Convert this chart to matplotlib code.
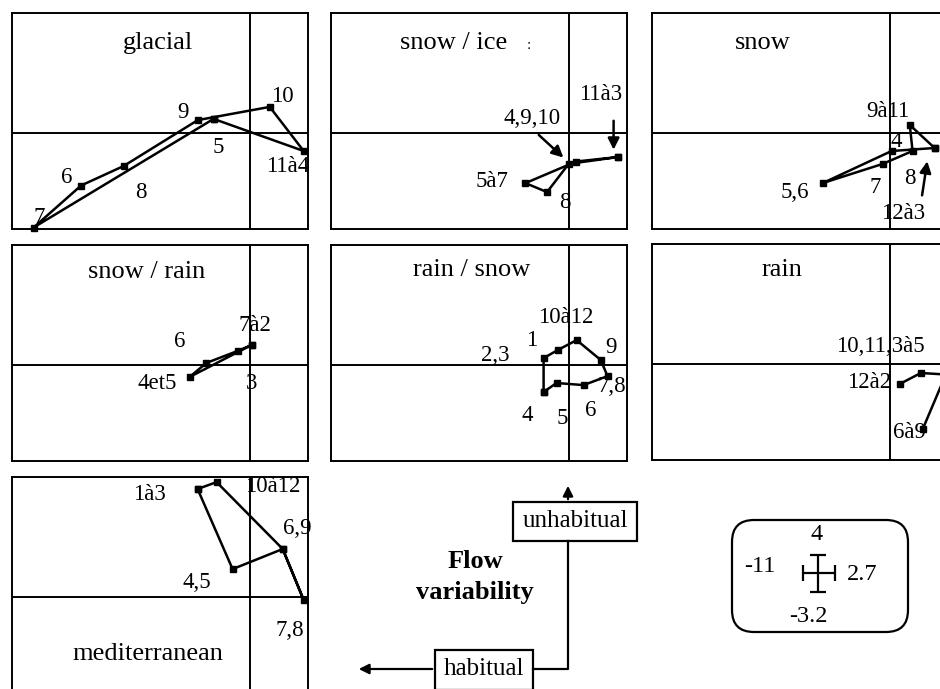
import matplotlib.pyplot as plt
from matplotlib.patches import FancyBboxPatch, Rectangle

plt.rcParams['font.family'] = ['Liberation Serif', 'DejaVu Serif']

# common extent of every panel (given by the legend box)
x_min, x_max = -11, 2.7
y_min, y_max = -3.2, 4

# glacial
glacial_x = [-1.67, -10.0, -7.8, -5.83, -2.4, 0.93, 2.5, -1.67]
glacial_y = [0.47, -3.15, -1.75, -1.1, 0.43, 0.87, -0.6, 0.47]
glacial_txt = ['glacial', '10', '9', '5', '6', '8', '7', '11à4']
glacial_tx = [-4.26, 1.53, -3.1, -1.44, -8.47, -5.05, -9.72, 1.76]
glacial_ty = [3.0, 1.2, 0.67, -0.47, -1.47, -1.97, -2.83, -1.13]

# snow / ice
snowice_x = [2.3, 0.35, -2.0, -1.0, 0.0, 2.3]
snowice_y = [-0.8, -0.95, -1.67, -1.97, -1.03, -0.8]
snowice_txt = ['snow / ice', '4,9,10', '11à3', '5à7', '8']
snowice_tx = [-5.32, -1.71, 1.48, -3.56, -0.19]
snowice_ty = [3.0, 0.5, 1.27, -1.63, -2.33]
snowice_arrows = [(-1.48, 0.0, -0.15, -0.88), (2.08, 0.5, 2.08, -0.65)]

# snow
snow_x = [2.08, 0.09, -3.1, -0.32, 1.06, 0.93, 2.08]
snow_y = [-0.5, -0.6, -1.67, -1.03, -0.6, 0.27, -0.5]
snow_txt = ['snow', '9à11', '4', '5,6', '7', '8', '12à3']
snow_tx = [-5.88, -0.09, 0.32, -4.4, -0.69, 0.93, 0.6]
snow_ty = [3.0, 0.73, -0.27, -2.0, -1.83, -1.5, -2.67]
snow_arrows = [(1.48, -2.17, 1.76, -0.85)]

# snow / rain
snowrain_x = [0.1, -2.78, -2.0, -0.55, 0.1]
snowrain_y = [0.67, -0.4, 0.07, 0.47, 0.67]
snowrain_txt = ['snow / rain', '7à2', '6', '4et5', '3']
snowrain_tx = [-4.77, 0.23, -3.24, -4.3, 0.09]
snowrain_ty = [3.1, 1.33, 0.77, -0.63, -0.63]

# rain / snow
rainsnow_x = [-1.16, -0.56, 0.69, 1.8, 1.48, 0.37, -0.5, -1.16, -1.16]
rainsnow_y = [-0.9, -0.6, -0.67, -0.37, 0.17, 0.83, 0.5, 0.23, -0.9]
rainsnow_txt = ['rain / snow', '10à12', '1', '2,3', '9', '7,8', '4', '5', '6']
rainsnow_tx = [-4.49, -0.14, -1.71, -3.38, 1.94, 1.99, -1.9, -0.28, 1.02]
rainsnow_ty = [3.17, 1.57, 0.83, 0.33, 0.57, -0.73, -1.67, -1.77, -1.5]

# rain
rain_x = [0.46, 1.44, 2.6, 1.53]
rain_y = [-0.67, -0.3, -0.35, -2.17]
rain_txt = ['rain', '10,11,3à5', '12à2', '6à9']
rain_tx = [-5.0, -0.42, -0.93, 0.93]
rain_ty = [3.13, 0.57, -0.63, -2.27]

# mediterranean
med_x = [-2.41, -0.79, 1.53, 2.5, 1.53, -1.53, -2.41]
med_y = [3.6, 0.93, 1.6, -0.1, 1.6, 3.83, 3.6]
med_txt = ['mediterranean', '1à3', '10à12', '6,9', '4,5', '7,8']
med_tx = [-4.72, -4.63, 1.06, 2.22, -2.45, 1.85]
med_ty = [-1.9, 3.43, 3.7, 2.3, 0.47, -1.13]

W, H = 940, 689
fig = plt.figure(figsize=(W / 100, H / 100), dpi=100)

# panel boxes in pixels: left, top
panels = [
    (12, 13, glacial_x, glacial_y, glacial_txt, glacial_tx, glacial_ty, []),
    (331, 13, snowice_x, snowice_y, snowice_txt, snowice_tx, snowice_ty, snowice_arrows),
    (652, 13, snow_x, snow_y, snow_txt, snow_tx, snow_ty, snow_arrows),
    (12, 245, snowrain_x, snowrain_y, snowrain_txt, snowrain_tx, snowrain_ty, []),
    (331, 245, rainsnow_x, rainsnow_y, rainsnow_txt, rainsnow_tx, rainsnow_ty, []),
    (652, 244, rain_x, rain_y, rain_txt, rain_tx, rain_ty, []),
    (12, 477, med_x, med_y, med_txt, med_tx, med_ty, []),
]
pw, ph = 296, 216

for left, top, xs, ys, txt, tx, ty, arrows in panels:
    ax = fig.add_axes([left / W, 1 - (top + ph) / H, pw / W, ph / H])
    ax.set_xlim(x_min, x_max)
    ax.set_ylim(y_min, y_max)
    ax.set_xticks([])
    ax.set_yticks([])
    for s in ax.spines.values():
        s.set_linewidth(1.4)
    ax.axhline(0, color='black', lw=1.4)
    ax.axvline(0, color='black', lw=1.4)
    ax.plot(xs, ys, color='black', lw=1.8, marker='s', markersize=3.8,
            clip_on=False, zorder=3)
    for i, t in enumerate(txt):
        size = 19 if i == 0 else 16.5
        ax.text(tx[i], ty[i], t, fontsize=size, ha='center', va='center')
    for x0, y0, x1, y1 in arrows:
        ax.annotate('', xy=(x1, y1), xytext=(x0, y0),
                    arrowprops=dict(arrowstyle='-|>', color='black', lw=1.8,
                                    mutation_scale=17))
    if txt[0] == 'snow / ice':
        ax.text(-1.85, 2.93, ':', fontsize=11, ha='center', va='center')

# overlay in pixel units for the schematic and the scale box
ov = fig.add_axes([0, 0, 1, 1])
ov.set_xlim(0, W)
ov.set_ylim(H, 0)
ov.axis('off')

ov.add_patch(Rectangle((513, 502), 124, 39, fill=False, lw=1.6))
ov.text(575, 521, 'unhabitual', fontsize=18, ha='center', va='center')
ov.annotate('', xy=(568, 483), xytext=(568, 502),
            arrowprops=dict(arrowstyle='-|>', color='black', lw=1.6, mutation_scale=15))
ov.plot([568, 568, 533], [541, 669, 669], color='black', lw=1.6)
ov.add_patch(Rectangle((435, 650), 98, 40, fill=False, lw=1.6))
ov.text(484, 669, 'habitual', fontsize=18, ha='center', va='center')
ov.annotate('', xy=(356, 669), xytext=(435, 669),
            arrowprops=dict(arrowstyle='-|>', color='black', lw=1.6, mutation_scale=15))
ov.text(475, 562, 'Flow', fontsize=19, fontweight='bold', ha='center', va='center')
ov.text(475, 592, 'variability', fontsize=19, fontweight='bold', ha='center', va='center')

ov.add_patch(FancyBboxPatch((732, 520), 176, 112,
                            boxstyle='round,pad=0,rounding_size=22',
                            fill=False, lw=1.6))
ov.errorbar([818], [573], xerr=[[15], [17]], yerr=[[18], [19]], fmt='none',
            ecolor='black', elinewidth=1.6, capsize=6, capthick=1.6)
ov.text(817, 535, '4', fontsize=17.5, ha='center', va='center')
ov.text(760, 567, '-11', fontsize=17.5, ha='center', va='center')
ov.text(862, 574, '2.7', fontsize=17.5, ha='center', va='center')
ov.text(808, 617, '-3.2', fontsize=17.5, ha='center', va='center')

fig.savefig('out.png', dpi=100)
